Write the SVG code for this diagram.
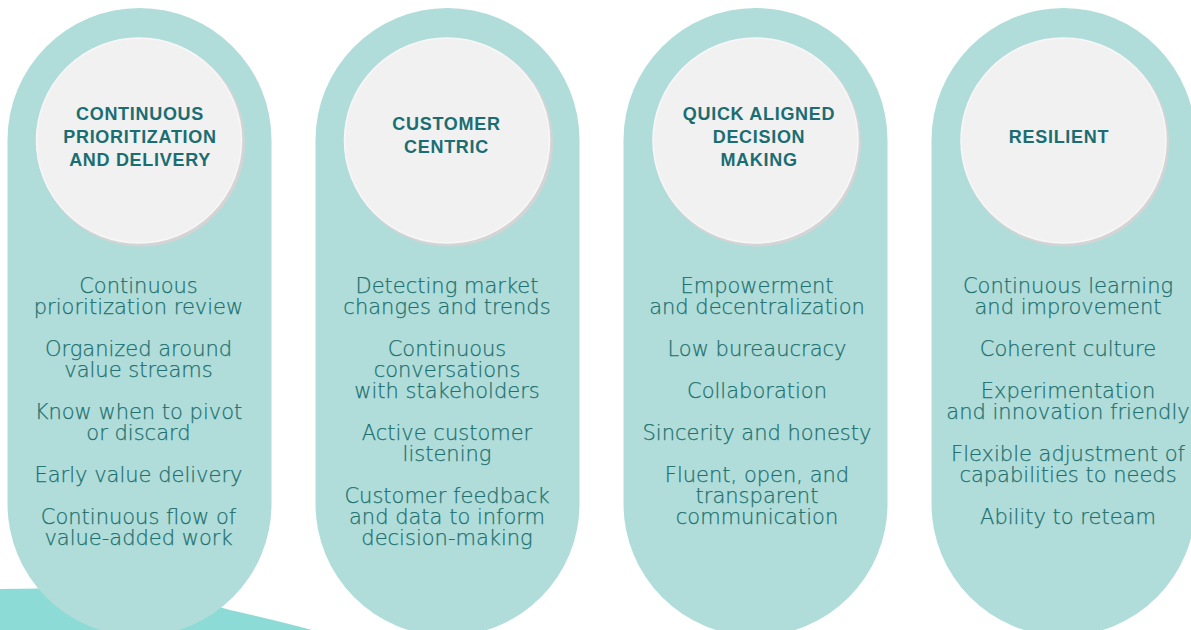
<svg xmlns="http://www.w3.org/2000/svg" width="1191" height="630" viewBox="0 0 1191 630">
  <defs>
    <style>
      .pill { fill: #b0ddda; }
      .shade { fill: #d4d4d4; }
      .disc { fill: #f1f1f1; stroke: #f7f7f7; stroke-width: 1.5; }
      .title { font-family: "Liberation Sans", Arial, sans-serif; font-weight: 700; font-size: 18px; letter-spacing: 0.7px; fill: #1b6d71; text-anchor: middle; }
      .body { font-family: "DejaVu Sans", "Liberation Sans", sans-serif; font-weight: 200; font-size: 21px; fill: #21706f; text-anchor: middle; stroke: #21706f; stroke-width: 0.25; }
    </style>
  </defs>
  <rect width="1191" height="630" fill="#ffffff"/>
  <path id="wave" d="M0,630 L0,589 Q150,585 230,610 Q275,620 312,630 Z" fill="#8ddbd6"/>

  <g id="col1">
    <rect class="pill" x="7.5" y="8" width="264" height="628" rx="132"/>
    <circle class="shade" cx="141" cy="142.5" r="104"/>
    <circle class="disc" cx="139" cy="140.5" r="102.5"/>
    <text class="title" x="140" y="119.5"><tspan x="140">CONTINUOUS</tspan><tspan x="140" dy="23">PRIORITIZATION</tspan><tspan x="140" dy="23">AND DELIVERY</tspan></text>
    <text class="body" y="293"><tspan x="138.5">Continuous</tspan><tspan x="138.5" dy="21">prioritization review</tspan></text>
    <text class="body" y="356"><tspan x="138.5">Organized around</tspan><tspan x="138.5" dy="21">value streams</tspan></text>
    <text class="body" y="419"><tspan x="138.5">Know when to pivot</tspan><tspan x="138.5" dy="21">or discard</tspan></text>
    <text class="body" x="138.5" y="482">Early value delivery</text>
    <text class="body" y="524"><tspan x="138.5">Continuous flow of</tspan><tspan x="138.5" dy="21">value-added work</tspan></text>
  </g>

  <g id="col2">
    <rect class="pill" x="315.5" y="8" width="264" height="628" rx="132"/>
    <circle class="shade" cx="449" cy="142.5" r="104"/>
    <circle class="disc" cx="447" cy="140.5" r="102.5"/>
    <text class="title" y="130"><tspan x="446.5">CUSTOMER</tspan><tspan x="446.5" dy="23">CENTRIC</tspan></text>
    <text class="body" y="293"><tspan x="447">Detecting market</tspan><tspan x="447" dy="21">changes and trends</tspan></text>
    <text class="body" y="356"><tspan x="447">Continuous</tspan><tspan x="447" dy="21">conversations</tspan><tspan x="447" dy="21">with stakeholders</tspan></text>
    <text class="body" y="440"><tspan x="447">Active customer</tspan><tspan x="447" dy="21">listening</tspan></text>
    <text class="body" y="503"><tspan x="447">Customer feedback</tspan><tspan x="447" dy="21">and data to inform</tspan><tspan x="447" dy="21">decision-making</tspan></text>
  </g>

  <g id="col3">
    <rect class="pill" x="623.5" y="8" width="264" height="628" rx="132"/>
    <circle class="shade" cx="757" cy="142.5" r="104"/>
    <circle class="disc" cx="755.5" cy="140.5" r="102.5"/>
    <text class="title" y="119.5"><tspan x="759">QUICK ALIGNED</tspan><tspan x="759" dy="23">DECISION</tspan><tspan x="759" dy="23">MAKING</tspan></text>
    <text class="body" y="293"><tspan x="757">Empowerment</tspan><tspan x="757" dy="21">and decentralization</tspan></text>
    <text class="body" x="757" y="356">Low bureaucracy</text>
    <text class="body" x="757" y="398">Collaboration</text>
    <text class="body" x="757" y="440">Sincerity and honesty</text>
    <text class="body" y="482"><tspan x="757">Fluent, open, and</tspan><tspan x="757" dy="21">transparent</tspan><tspan x="757" dy="21">communication</tspan></text>
  </g>

  <g id="col4">
    <rect class="pill" x="931.5" y="8" width="264" height="628" rx="132"/>
    <circle class="shade" cx="1065" cy="142.5" r="104"/>
    <circle class="disc" cx="1063.5" cy="140.5" r="102.5"/>
    <text class="title" x="1059" y="143">RESILIENT</text>
    <text class="body" y="293"><tspan x="1068">Continuous learning</tspan><tspan x="1068" dy="21">and improvement</tspan></text>
    <text class="body" x="1068" y="356">Coherent culture</text>
    <text class="body" y="398"><tspan x="1068">Experimentation</tspan><tspan x="1068" dy="21">and innovation friendly</tspan></text>
    <text class="body" y="461"><tspan x="1068">Flexible adjustment of</tspan><tspan x="1068" dy="21">capabilities to needs</tspan></text>
    <text class="body" x="1068" y="524">Ability to reteam</text>
  </g>

  <g id="connectors"/>
</svg>
